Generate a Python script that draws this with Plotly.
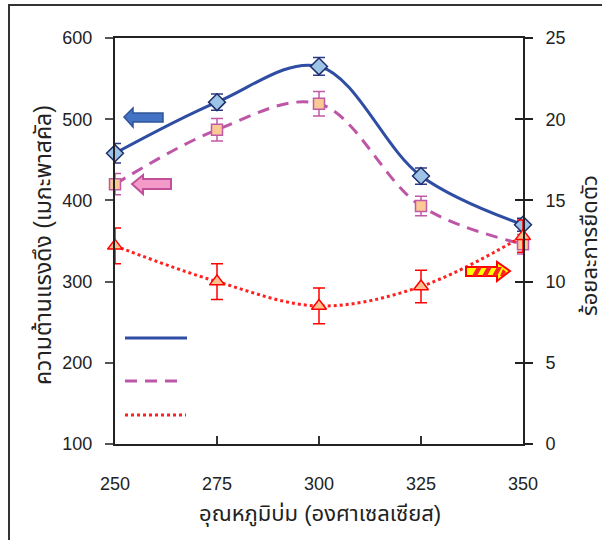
import plotly.graph_objects as go

temps = [250, 275, 300, 325, 350]
tensile = [458, 521, 565, 430, 370]
tensile_err = [12, 10, 11, 10, 8]
modulus = [420, 487, 519, 393, 346]
modulus_err = [13, 14, 15, 12, 12]
elong = [12.2, 10.0, 8.5, 9.7, 12.8]
elong_err = [1.1, 1.1, 1.1, 1.0, 1.0]

FONT = "Liberation Sans, Arial, Noto Sans Thai, sans-serif"
W, H = 602, 540
L, R, T, B = 115, 79, 38, 96
PW, PH = W - L - R, H - T - B


def px(x):
    return (x - L) / PW


def py(y):
    return (H - B - y) / PH


fig = go.Figure()

fig.add_trace(go.Scatter(
    x=temps, y=tensile, mode="lines+markers", cliponaxis=False,
    line=dict(color="#2E4DA3", width=3, shape="spline", smoothing=1),
    marker=dict(symbol="diamond", size=13, color="#9DC3E6",
                line=dict(color="#1F2D6B", width=1.5)),
    error_y=dict(type="data", array=tensile_err, color="#2B3A8A", thickness=1.5, width=6),
    showlegend=False))

fig.add_trace(go.Scatter(
    x=temps, y=modulus, mode="lines+markers", cliponaxis=False,
    line=dict(color="#BE56A8", width=3, shape="spline", smoothing=1, dash="12px,8px"),
    marker=dict(symbol="square", size=11, color="#FBC994",
                line=dict(color="#C05AA8", width=1.5)),
    error_y=dict(type="data", array=modulus_err, color="#C05AA8", thickness=1.5, width=6),
    showlegend=False))

fig.add_trace(go.Scatter(
    x=temps, y=elong, mode="lines+markers", yaxis="y2", cliponaxis=False,
    line=dict(color="#FF2020", width=3, shape="spline", smoothing=1, dash="3px,3px"),
    marker=dict(symbol="triangle-up", size=13, color="#FBC090",
                line=dict(color="#FF0000", width=1.5)),
    error_y=dict(type="data", array=elong_err, color="#FF0000", thickness=1.5, width=6),
    showlegend=False))

# dummy trace for inner ticks on right axis
fig.add_trace(go.Scatter(x=[temps[0]], y=[elong[0]], yaxis="y3", mode="markers",
                         marker=dict(opacity=0), showlegend=False, hoverinfo="skip"))

shapes = []
# outer frame
shapes.append(dict(type="rect", xref="paper", yref="paper",
                   x0=px(9), x1=px(620), y0=py(5), y1=py(560),
                   line=dict(color="#333333", width=2), fillcolor="rgba(0,0,0,0)"))

# legend line samples
shapes.append(dict(type="line", xref="paper", yref="paper", x0=px(125), x1=px(187),
                   y0=py(338), y1=py(338), line=dict(color="#2E4DA3", width=3)))
shapes.append(dict(type="line", xref="paper", yref="paper", x0=px(125), x1=px(184),
                   y0=py(381), y1=py(381), line=dict(color="#BE56A8", width=3, dash="12px,8px")))
shapes.append(dict(type="line", xref="paper", yref="paper", x0=px(125), x1=px(186),
                   y0=py(415), y1=py(415), line=dict(color="#FF2020", width=3, dash="3px,3px")))


def arrow_path(pts):
    s = "M " + " L ".join(f"{px(x):.5f},{py(y):.5f}" for x, y in pts) + " Z"
    return s


# blue arrow (left)
blue_pts = [(124, 117), (133, 108), (133, 113), (163, 113), (163, 122), (133, 122), (133, 127)]
shapes.append(dict(type="path", xref="paper", yref="paper", path=arrow_path(blue_pts),
                   fillcolor="#4472C4", line=dict(color="#2F5597", width=1.5)))
# pink arrow (left)
pink_pts = [(132, 184), (143, 175), (143, 179), (171, 179), (171, 189), (143, 189), (143, 194)]
shapes.append(dict(type="path", xref="paper", yref="paper", path=arrow_path(pink_pts),
                   fillcolor="#F49AC8", line=dict(color="#C0509A", width=2)))
# yellow striped arrow (right)
yel_pts = [(510, 271), (497, 262), (497, 267), (466, 267), (466, 276), (497, 276), (497, 281)]
shapes.append(dict(type="path", xref="paper", yref="paper", path=arrow_path(yel_pts),
                   fillcolor="#FFFF00", line=dict(color="#FF0000", width=2)))
for sx in [472, 482, 492]:
    stripe = [(sx, 276), (sx + 5, 276), (sx + 10, 267), (sx + 5, 267)]
    shapes.append(dict(type="path", xref="paper", yref="paper", path=arrow_path(stripe),
                       fillcolor="#FF2020", line=dict(width=0)))
stripe = [(500, 276), (503, 276), (506, 272), (503, 269)]
shapes.append(dict(type="path", xref="paper", yref="paper", path=arrow_path(stripe),
                   fillcolor="#FF2020", line=dict(width=0)))

annotations = [
    dict(text="ความต้านแรงดึง (เมกะพาสคัล)", xref="paper", yref="paper",
         x=px(43), y=py(245), textangle=-90, showarrow=False,
         font=dict(size=23, color="#222222"), xanchor="center", yanchor="middle"),
    dict(text="ร้อยละการยืดตัว", xref="paper", yref="paper",
         x=px(589), y=py(246), textangle=-90, showarrow=False,
         font=dict(size=22, color="#222222"), xanchor="center", yanchor="middle"),
    dict(text="อุณหภูมิบ่ม (องศาเซลเซียส)", xref="paper", yref="paper",
         x=px(320), y=py(514), showarrow=False,
         font=dict(size=22, color="#222222"), xanchor="center", yanchor="middle"),
]

fig.update_layout(
    width=W, height=H,
    margin=dict(l=L, r=R, t=T, b=B),
    paper_bgcolor="white", plot_bgcolor="white",
    font=dict(family=FONT, size=18, color="#222222"),
    shapes=shapes,
    annotations=annotations,
    xaxis=dict(range=[250, 350], tickvals=temps, ticks="inside", ticklen=8,
               tickcolor="#333333", tickwidth=1.5, ticklabelstandoff=22,
               showgrid=False, zeroline=False, showline=True, linecolor="#222222",
               linewidth=2, mirror=True, tickfont=dict(size=18)),
    yaxis=dict(range=[100, 600], tickvals=[100, 200, 300, 400, 500, 600],
               ticks="outside", ticklen=8, tickcolor="#555555", tickwidth=1.5,
               ticklabelstandoff=9,
               showgrid=False, zeroline=False, showline=True, linecolor="#222222",
               linewidth=2, tickfont=dict(size=18)),
    yaxis2=dict(range=[0, 25], tickvals=[0, 5, 10, 15, 20, 25], overlaying="y",
                side="right", ticks="outside", ticklen=8, tickcolor="#222222",
                tickwidth=1.5, ticklabelstandoff=9,
                showgrid=False, zeroline=False, showline=True,
                linecolor="#222222", linewidth=2, tickfont=dict(size=18)),
    yaxis3=dict(range=[0, 25], tickvals=[0, 5, 10, 15, 20, 25], overlaying="y",
                side="right", ticks="inside", ticklen=8, tickcolor="#222222",
                tickwidth=1.5, showgrid=False, zeroline=False, showline=False,
                showticklabels=False),
)

fig.write_html("out.html")
